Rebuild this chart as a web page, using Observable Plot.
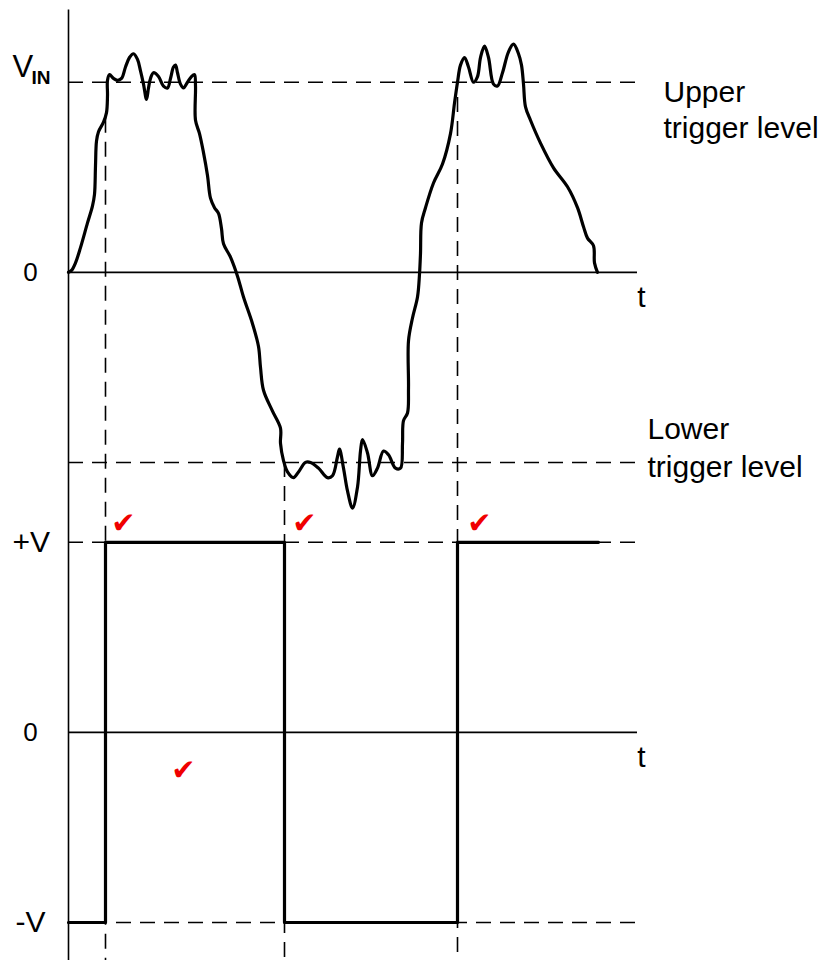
<!DOCTYPE html>
<html><head><meta charset="utf-8">
<script src="https://cdn.jsdelivr.net/npm/d3@7"></script>
<script src="https://cdn.jsdelivr.net/npm/@observablehq/plot@0.6"></script>
<style>html,body{margin:0;padding:0;background:#fff}#chart svg{display:block}</style>
</head><body><div id="chart"></div>
<script>
// Input signal (time in arbitrary units, voltage normalised so trigger levels are ±1)
const inputT = [0,3,7,12,19,24,26,27,28,30,35,38,39,39,41,45,49,53,57,61,65,69,72,75,78,80,82,85,90,95,99,102,105,107,109,112,115,119,123,126,127,127,131,135,139,142,146,150,153,155,162,169,175,184,190,192,195,204,212,212,215,219,225,230,237,242,250,259,264,269,271,275,279,284,289,292,294,299,304,309,315,320,327,332,334,335,339,340,340,344,349,351,352,353,357,365,374,382,386,389,392,396,400,405,409,412,416,420,425,429,434,440,445,450,453,455,457,462,472,485,499,509,515,519,525,526,529];
const inputV = [0,0.01,0.05,0.13,0.26,0.35,0.41,0.56,0.69,0.74,0.79,0.84,0.93,1.01,1.04,1.02,1.01,1.02,1.08,1.13,1.15,1.12,1.06,0.99,0.91,0.97,1.02,1.05,1.03,0.98,0.97,1.02,1.08,1.09,1.05,0.99,0.97,1.00,1.03,1.04,0.98,0.80,0.73,0.63,0.51,0.39,0.34,0.31,0.23,0.15,0.08,-0.02,-0.13,-0.27,-0.39,-0.50,-0.62,-0.73,-0.82,-0.90,-0.99,-1.05,-1.08,-1.05,-1.00,-1.00,-1.03,-1.08,-1.07,-0.97,-0.93,-1.03,-1.15,-1.24,-1.13,-0.94,-0.88,-0.95,-1.07,-1.03,-0.94,-0.96,-1.03,-1.03,-0.90,-0.78,-0.74,-0.61,-0.36,-0.24,-0.13,-0.01,0.10,0.26,0.34,0.47,0.57,0.73,0.89,1.00,1.09,1.13,1.08,1.00,1.03,1.13,1.19,1.13,0.99,0.98,1.05,1.16,1.20,1.15,1.09,0.99,0.87,0.80,0.68,0.55,0.45,0.34,0.24,0.18,0.14,0.05,0];
// Output square wave
const outputT = [0,37,37,216,216,389,389,530];
const outputV = [-1,-1,1,1,-1,-1,1,1];
// Levels
const upperTrigger = 1, lowerTrigger = -1;
const outHigh = 1, outLow = -1;
// Switching instants and where their guide lines start (input units)
const switchT = [37,216,389];
const guideStartV = [0.81,-1.0,0.92];
// Check marks positions (output units)
const checkT = [55,236,411,115];
const checkV = [1.10,1.10,1.10,-0.20];
const tEnd = 569;          // end of the time axes
const axisTop = 1.38;      // top of the vertical axis (input units)
const OFFSET = 2.42;       // vertical offset of the input panel above the output panel
const yBottom = -1.2;

const inputData = inputT.map((t,i)=>({t, y: inputV[i] + OFFSET}));
const outputData = outputT.map((t,i)=>({t, y: outputV[i]}));
const guides = switchT.map((t,i)=>({t, y1: guideStartV[i] + OFFSET, y2: yBottom}));
const checks = checkT.map((t,i)=>({t, y: checkV[i]}));
const font = "Liberation Sans, Arial, Helvetica, sans-serif";
const dash = "15,9";

const chart = Plot.plot({
  width: 826, height: 960, margin: 0,
  x: {domain: [-68, 758], axis: null},
  y: {domain: [yBottom, 3.85], axis: null},
  style: {fontFamily: font, background: "#fff"},
  marks: [
    // dashed level lines
    Plot.ruleY([upperTrigger + OFFSET, lowerTrigger + OFFSET, outHigh, outLow], {x1: 0, x2: tEnd, stroke: "#000", strokeWidth: 1.6, strokeDasharray: dash}),
    // dashed switching guides
    Plot.ruleX(guides, {x: "t", y1: "y1", y2: "y2", stroke: "#000", strokeWidth: 1.6, strokeDasharray: dash}),
    // axes
    Plot.ruleX([0], {y1: yBottom, y2: axisTop + OFFSET, stroke: "#000", strokeWidth: 1.6}),
    Plot.ruleY([OFFSET, 0], {x1: 0, x2: tEnd, stroke: "#000", strokeWidth: 1.6}),
    // signals
    Plot.line(inputData, {x: "t", y: "y", curve: "catmull-rom", stroke: "#000", strokeWidth: 3.2, strokeLinejoin: "round"}),
    Plot.line(outputData, {x: "t", y: "y", stroke: "#000", strokeWidth: 3.2}),
    // labels
    Plot.text(["V"], {x: -56, y: 1.03 + OFFSET, textAnchor: "start", lineAnchor: "bottom", fontSize: 31, fill: "#000"}),
    Plot.text(["IN"], {x: -37, y: 0.99 + OFFSET, textAnchor: "start", lineAnchor: "bottom", fontSize: 19, fontWeight: "bold", fill: "#000"}),
    Plot.text(["0"], {x: -38, y: OFFSET, textAnchor: "middle", lineAnchor: "middle", fontSize: 26, fill: "#000"}),
    Plot.text(["0"], {x: -38, y: 0, textAnchor: "middle", lineAnchor: "middle", fontSize: 26, fill: "#000"}),
    Plot.text(["+V"], {x: -56, y: outHigh, textAnchor: "start", lineAnchor: "middle", fontSize: 30, fill: "#000"}),
    Plot.text(["-V"], {x: -53, y: outLow, textAnchor: "start", lineAnchor: "middle", fontSize: 30, fill: "#000"}),
    Plot.text(["t"], {x: 573, y: -0.18 + OFFSET, textAnchor: "middle", lineAnchor: "bottom", fontSize: 30, fill: "#000"}),
    Plot.text(["t"], {x: 573, y: -0.18, textAnchor: "middle", lineAnchor: "bottom", fontSize: 30, fill: "#000"}),
    Plot.text(["Upper\ntrigger level"], {x: 595, y: 1.03 + OFFSET, textAnchor: "start", lineAnchor: "top", fontSize: 30, lineHeight: 1.2, fill: "#000"}),
    Plot.text(["Lower\ntrigger level"], {x: 579, y: -0.735 + OFFSET, textAnchor: "start", lineAnchor: "top", fontSize: 30, lineHeight: 1.27, fill: "#000"}),
    // check marks
    Plot.text(checks, {x: "t", y: "y", text: () => "\u2714", fontFamily: "DejaVu Sans", fontSize: 29, fill: "#f00000", textAnchor: "middle", lineAnchor: "middle"})
  ]
});
document.getElementById("chart").appendChild(chart);
</script>
</body></html>
